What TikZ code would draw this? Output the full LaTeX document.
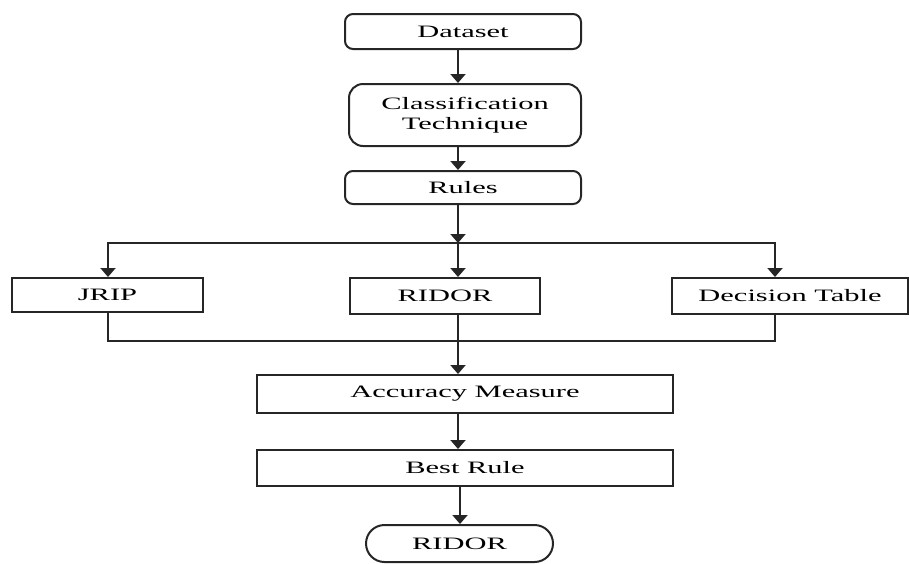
\documentclass[tikz,border=0pt]{standalone}
\usepackage{fontspec}
\setmainfont{Liberation Serif}
\usepackage{graphicx}
\usetikzlibrary{calc}
\usetikzlibrary{arrows.meta}
\usetikzlibrary{shapes.misc}

\newcommand{\wtxt}[1]{\scalebox{1.75}[1]{#1}}

\begin{document}
\begin{tikzpicture} [x=0.5pt, y=-0.5pt, line width=1pt, draw=black!85,
  box/.style={draw=black!85, rectangle, inner sep=0pt, font=\fontsize{8.7}{11}\selectfont},
  rbox/.style={box, rounded corners=4pt},
  term/.style={box, rounded rectangle},
  arr/.style={-{Triangle[width=7.5pt,length=4.5pt]}}]
\useasboundingbox (0,0) rectangle (909,563);

\node[rbox, minimum width=118pt, minimum height=17.5pt] (data) at (463,31.5) {\wtxt{Dataset}};
\node[rbox, rounded corners=7pt, minimum width=116pt, minimum height=31pt, align=center] (tech) at (465,115) {\wtxt{Classification}\\[-1pt]\wtxt{Technique}};
\node[rbox, minimum width=118pt, minimum height=16.5pt] (rules) at (463,187.5) {\wtxt{Rules}};

\node[box, minimum width=95.5pt, minimum height=17pt] (jrip) at (107.5,295) {\wtxt{JRIP}};
\node[box, minimum width=95pt, minimum height=18pt] (ridor) at (445,296) {\wtxt{RIDOR}};
\node[box, minimum width=118pt, minimum height=18pt] (dtab) at (790,296) {\wtxt{Decision Table}};

\node[box, minimum width=208pt, minimum height=19pt] (acc) at (465,394) {\wtxt{Accuracy Measure}};
\node[box, minimum width=208pt, minimum height=18pt] (best) at (465,468) {\wtxt{Best Rule}};
\node[term, minimum width=93.5pt, minimum height=18.5pt] (res) at (459.5,543.5) {\wtxt{RIDOR}};

\coordinate (split) at (458,243);
\coordinate (lsplit) at (108,243);
\coordinate (rsplit) at (775,243);
\coordinate (join) at (458,341);
\coordinate (ljoin) at (108,341);
\coordinate (rjoin) at (775,341);
\coordinate (last) at (460,500);

\draw[arr] (split |- data.south) -- (split |- tech.north);
\draw[arr] (split |- tech.south) -- (split |- rules.north);
\draw[arr] (split |- rules.south) -- (split);
\draw[arr] (split) -- (split |- ridor.north);
\draw[arr] (split) -- (lsplit) -- (lsplit |- jrip.north);
\draw[arr] (split) -- (rsplit) -- (rsplit |- dtab.north);

\draw (lsplit |- jrip.south) -- (ljoin) -- (rjoin) -- (rsplit |- dtab.south);
\draw[arr] (split |- ridor.south) -- (split |- acc.north);
\draw[arr] (split |- acc.south) -- (split |- best.north);
\draw[arr] (last |- best.south) -- (last |- res.north);

\end{tikzpicture}
\end{document}
